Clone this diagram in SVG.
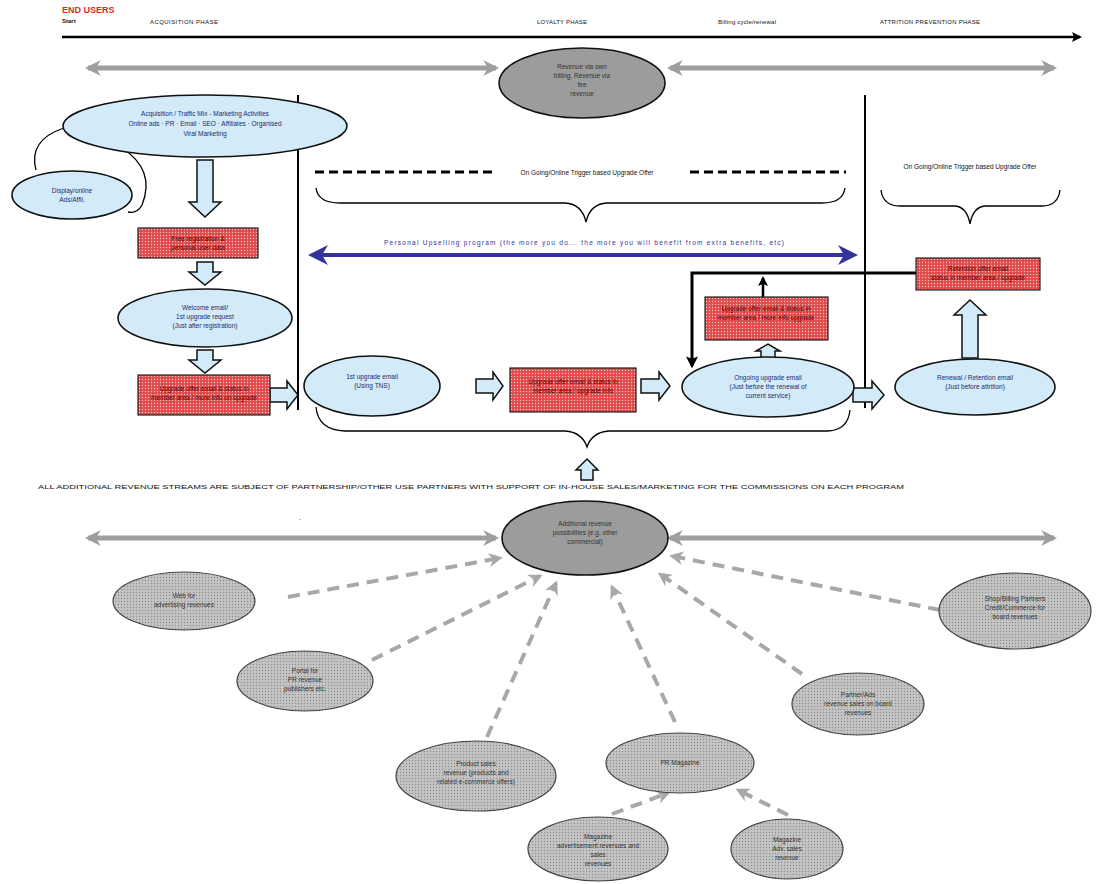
<svg xmlns="http://www.w3.org/2000/svg" width="1096" height="884" viewBox="0 0 1096 884">
<style>
text{font-family:"Liberation Sans",Arial,sans-serif;text-anchor:middle}
.t{font-size:6.5px;fill:#1d2a6b}
.r{font-size:6.5px;fill:#5a0000}
.g{font-size:6.5px;fill:#333}
.hd{font-size:6px;fill:#111;text-anchor:start}
.blue{fill:#d3ebf8;stroke:#111;stroke-width:1.6}
.red{fill:url(#redp);stroke:#222;stroke-width:1.2}
.gray{fill:url(#grayp);stroke:#444;stroke-width:1.2}
.dark{fill:#9c9c9c;stroke:#111;stroke-width:1.6}
.barr{fill:#d3ebf8;stroke:#111;stroke-width:1.5}
.garr{stroke:#9e9e9e;stroke-width:5;fill:none}
.dash{stroke:#a8a8a8;stroke-width:4;stroke-dasharray:12 8;fill:none}
.vline{stroke:#000;stroke-width:2;fill:none}
.brace{stroke:#000;stroke-width:1.3;fill:none}
</style>
<defs>
<pattern id="redp" width="3" height="3" patternUnits="userSpaceOnUse"><rect width="3" height="3" fill="#e04a4a"/><circle cx="1.5" cy="1.5" r="0.7" fill="#f6c6c6"/></pattern>
<pattern id="grayp" width="3" height="3" patternUnits="userSpaceOnUse"><rect width="3" height="3" fill="#c4c4c4"/><circle cx="1.5" cy="1.5" r="0.7" fill="#8e8e8e"/></pattern>
<marker id="ga" viewBox="0 0 10 10" refX="8" refY="5" markerWidth="3.2" markerHeight="3.2" orient="auto-start-reverse"><path d="M0,0 L10,5 L0,10 L3,5 Z" fill="#9e9e9e"/></marker>
<marker id="da" viewBox="0 0 10 10" refX="8" refY="5" markerWidth="3.5" markerHeight="3.5" orient="auto"><path d="M0,0 L10,5 L0,10 L3,5 Z" fill="#a8a8a8"/></marker>
<marker id="ba" viewBox="0 0 10 10" refX="8" refY="5" markerWidth="5" markerHeight="5" orient="auto-start-reverse"><path d="M0,0 L10,5 L0,10 L3,5 Z" fill="#33339a"/></marker>
<marker id="ka" viewBox="0 0 10 10" refX="8" refY="5" markerWidth="4" markerHeight="4" orient="auto"><path d="M0,0 L10,5 L0,10 L2,5 Z" fill="#000"/></marker>
</defs>

<rect width="1096" height="884" fill="#fff"/>

<g id="header">
<text x="62" y="13" style="font-size:9px;font-weight:bold;fill:#e02828;text-anchor:start">END USERS</text>
<text x="62" y="23" class="hd" style="font-weight:bold">Start</text>
<text x="150" y="24" class="hd" textLength="68">ACQUISITION PHASE</text>
<text x="537" y="24" class="hd" textLength="50">LOYALTY PHASE</text>
<text x="718" y="24" class="hd" textLength="58">Billing cycle/renewal</text>
<text x="880" y="24" class="hd" textLength="100">ATTRITION PREVENTION PHASE</text>
</g>

<g id="connectors">
<line x1="62" y1="37" x2="1080" y2="37" stroke="#000" stroke-width="2.5" marker-end="url(#ka)"/>
<line x1="88" y1="68" x2="496" y2="68" class="garr" marker-start="url(#ga)" marker-end="url(#ga)"/>
<line x1="670" y1="68" x2="1054" y2="68" class="garr" marker-start="url(#ga)" marker-end="url(#ga)"/>
<line x1="88" y1="538" x2="496" y2="538" class="garr" marker-start="url(#ga)" marker-end="url(#ga)"/>
<line x1="670" y1="538" x2="1054" y2="538" class="garr" marker-start="url(#ga)" marker-end="url(#ga)"/>
<line x1="298" y1="95" x2="298" y2="410" class="vline"/>
<line x1="865" y1="95" x2="865" y2="408" class="vline"/>
<line x1="315" y1="172" x2="495" y2="172" stroke="#000" stroke-width="3" stroke-dasharray="9 5"/>
<line x1="690" y1="172" x2="846" y2="172" stroke="#000" stroke-width="3" stroke-dasharray="9 5"/>
<path class="brace" d="M316,188 Q318,203 340,203 L565,203 Q582,204 586,222 Q590,204 607,203 L822,203 Q843,203 845,188"/>
<path class="brace" d="M881,190 Q883,206 900,206 L955,206 Q967,207 970,224 Q973,207 985,206 L1042,206 Q1058,206 1060,190"/>
<path class="brace" d="M316,407 Q318,430 345,431 L565,431 Q582,432 587,447 Q592,432 609,431 L828,431 Q848,430 850,410"/>
<line x1="312" y1="255" x2="854" y2="255" stroke="#33339a" stroke-width="4" marker-start="url(#ba)" marker-end="url(#ba)"/>
<path d="M916,273 H692 V366" stroke="#000" stroke-width="3" fill="none" marker-end="url(#ka)"/>
<line x1="763" y1="297" x2="763" y2="278" stroke="#000" stroke-width="2.5" marker-end="url(#ka)"/>
<path d="M64,128 Q28,140 36,170" class="brace" stroke-width="2"/>
<path d="M122,148 Q156,170 142,205 Q137,214 128,212" class="brace" stroke-width="2"/>
<path d="M205,160 V200 H212 M198,200 V160" fill="none" stroke="none"/>
<path class="barr" d="M197,160 H213 V202 H221 L205,217 L189,202 H197 Z"/>
<path class="barr" d="M197,262 H213 V272 H221 L205,285 L189,272 H197 Z"/>
<path class="barr" d="M197,350 H213 V360 H221 L205,373 L189,360 H197 Z"/>
<path class="barr" d="M270,388 H287 V381 L298,395 L287,409 V402 H270 Z"/>
<path class="barr" d="M476,379 H493 V372 L503,386 L493,400 V393 H476 Z"/>
<path class="barr" d="M641,379 H659 V372 L670,386 L659,400 V393 H641 Z"/>
<path class="barr" d="M853,388 H872 V381 L884,395 L872,409 V402 H853 Z"/>
<path class="barr" d="M962,358 V315 H954 L970,300 L986,315 H978 V358 Z"/>
<path class="barr" d="M761,358 V351 H756 L768,344 L780,351 H775 V358 Z"/>
<path class="barr" d="M581,480 V470 H576 L587,459 L598,470 H593 V480 Z"/>
<line x1="288" y1="597" x2="500" y2="558" class="dash" marker-end="url(#da)"/>
<line x1="372" y1="660" x2="540" y2="576" class="dash" marker-end="url(#da)"/>
<line x1="487" y1="737" x2="556" y2="583" class="dash" marker-end="url(#da)"/>
<line x1="675" y1="722" x2="612" y2="587" class="dash" marker-end="url(#da)"/>
<line x1="802" y1="674" x2="660" y2="574" class="dash" marker-end="url(#da)"/>
<line x1="940" y1="610" x2="672" y2="556" class="dash" marker-end="url(#da)"/>
<line x1="612" y1="814" x2="668" y2="793" class="dash" marker-end="url(#da)"/>
<line x1="788" y1="815" x2="738" y2="790" class="dash" marker-end="url(#da)"/>
</g>

<g id="rev-top">
<ellipse cx="582" cy="83" rx="83" ry="35" class="dark"/>
<text x="582" y="69" class="g">Revenue via own</text>
<text x="582" y="78" class="g">billing, Revenue via</text>
<text x="582" y="87" class="g">fee</text>
<text x="582" y="96" class="g">revenue</text>
</g>

<g id="marketing">
<ellipse cx="205" cy="126" rx="142" ry="31" class="blue"/>
<text x="205" y="116" class="t">Acquisition / Traffic Mix - Marketing Activities</text>
<text x="205" y="126" class="t">Online ads · PR · Email · SEO · Affiliates · Organised</text>
<text x="205" y="136" class="t">Viral Marketing</text>
</g>

<g id="display">
<ellipse cx="72" cy="195" rx="60" ry="24" class="blue"/>
<text x="72" y="193" class="t">Display/online</text>
<text x="72" y="202" class="t">Ads/Affil.</text>
</g>

<g id="box-reg">
<rect x="138" y="228" width="120" height="30" class="red"/>
<text x="198" y="241" class="r">Free registration &amp;</text>
<text x="198" y="250" class="r">personal user data</text>
</g>

<g id="welcome">
<ellipse cx="205" cy="318" rx="87" ry="29" class="blue"/>
<text x="205" y="310" class="t">Welcome email/</text>
<text x="205" y="319" class="t">1st upgrade request</text>
<text x="205" y="328" class="t">(Just after registration)</text>
</g>

<g id="box-first">
<rect x="138" y="375" width="132" height="40" class="red"/>
<text x="204" y="391" class="r">Upgrade offer email &amp; status in</text>
<text x="204" y="400" class="r">member area / more info on upgrade</text>
</g>

<text x="587" y="175" style="font-size:6.5px;fill:#111">On Going/Online Trigger based Upgrade Offer</text>
<text x="970" y="169" style="font-size:6.5px;fill:#111">On Going/Online Trigger based Upgrade Offer</text>
<text x="584" y="245" style="font-size:6.5px;fill:#33339a" textLength="400">Personal Upselling program (the more you do... the more you will benefit from extra benefits, etc)</text>

<g id="first-upgrade">
<ellipse cx="372" cy="386" rx="68" ry="30" class="blue"/>
<text x="372" y="379" class="t">1st upgrade email</text>
<text x="372" y="388" class="t">(Using TNS)</text>
</g>

<g id="box-mid">
<rect x="510" y="368" width="126" height="44" class="red"/>
<text x="573" y="384" class="r">Upgrade offer email &amp; status in</text>
<text x="573" y="393" class="r">member area / upgrade info</text>
</g>

<g id="ongoing">
<ellipse cx="768" cy="387" rx="86" ry="30" class="blue"/>
<text x="768" y="380" class="t">Ongoing upgrade email</text>
<text x="768" y="389" class="t">(Just before the renewal of</text>
<text x="768" y="398" class="t">current service)</text>
</g>

<g id="box-ongoing">
<rect x="705" y="297" width="123" height="43" class="red"/>
<text x="766" y="311" class="r">Upgrade offer email &amp; status in</text>
<text x="766" y="320" class="r">member area / more info upgrade</text>
</g>

<g id="box-retention">
<rect x="916" y="258" width="124" height="32" class="red"/>
<text x="978" y="271" class="r">Retention offer email</text>
<text x="978" y="280" class="r">status in member area / upgrade</text>
</g>

<g id="renewal">
<ellipse cx="975" cy="387" rx="80" ry="28" class="blue"/>
<text x="975" y="380" class="t">Renewal / Retention email</text>
<text x="975" y="389" class="t">(Just before attrition)</text>
</g>

<text x="471" y="489" style="font-size:5.5px;fill:#111" textLength="866" lengthAdjust="spacingAndGlyphs">ALL ADDITIONAL REVENUE STREAMS ARE SUBJECT OF PARTNERSHIP/OTHER USE PARTNERS WITH SUPPORT OF IN-HOUSE SALES/MARKETING FOR THE COMMISSIONS ON EACH PROGRAM</text>
<text x="300" y="520" style="font-size:7px;fill:#111">.</text>

<g id="rev-additional">
<ellipse cx="585" cy="538" rx="83" ry="37" class="dark"/>
<text x="585" y="526" class="g">Additional revenue</text>
<text x="585" y="535" class="g">possibilities (e.g. other</text>
<text x="585" y="544" class="g">commercial)</text>
</g>

<g id="n1">
<ellipse cx="184" cy="601" rx="71" ry="29" class="gray"/>
<text x="184" y="598" class="g">Web for</text>
<text x="184" y="607" class="g">advertising revenues</text>
</g>
<g id="n2">
<ellipse cx="305" cy="681" rx="68" ry="30" class="gray"/>
<text x="305" y="673" class="g">Portal for</text>
<text x="305" y="682" class="g">PR revenue</text>
<text x="305" y="691" class="g">publishers etc.</text>
</g>
<g id="n3">
<ellipse cx="476" cy="776" rx="80" ry="35" class="gray"/>
<text x="476" y="766" class="g">Product sales</text>
<text x="476" y="775" class="g">revenue (products and</text>
<text x="476" y="784" class="g">related e-commerce offers)</text>
</g>
<g id="n4">
<ellipse cx="680" cy="763" rx="74" ry="30" class="gray"/>
<text x="680" y="765" class="g">PR Magazine</text>
</g>
<g id="n5">
<ellipse cx="598" cy="849" rx="70" ry="32" class="gray"/>
<text x="598" y="839" class="g">Magazine</text>
<text x="598" y="848" class="g">advertisement revenues and</text>
<text x="598" y="857" class="g">sales</text>
<text x="598" y="866" class="g">revenues</text>
</g>
<g id="n6">
<ellipse cx="787" cy="849" rx="56" ry="30" class="gray"/>
<text x="787" y="842" class="g">Magazine</text>
<text x="787" y="851" class="g">Adv. sales</text>
<text x="787" y="860" class="g">revenue</text>
</g>
<g id="n7">
<ellipse cx="858" cy="704" rx="66" ry="31" class="gray"/>
<text x="858" y="697" class="g">Partner/Ads</text>
<text x="858" y="706" class="g">revenue sales on board</text>
<text x="858" y="715" class="g">revenues</text>
</g>
<g id="n8">
<ellipse cx="1015" cy="611" rx="76" ry="38" class="gray"/>
<text x="1015" y="601" class="g">Shop/Billing Partners</text>
<text x="1015" y="610" class="g">Credit/Commerce for</text>
<text x="1015" y="619" class="g">board revenues</text>
</g>
</svg>
